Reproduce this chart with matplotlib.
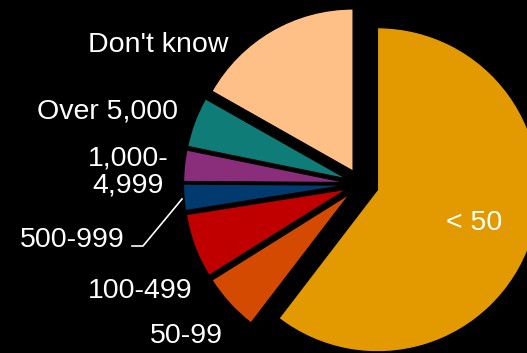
import matplotlib
matplotlib.use("Agg")
import matplotlib.pyplot as plt
from matplotlib.lines import Line2D

plt.rcParams["font.family"] = ["Liberation Sans", "DejaVu Sans"]

# share of respondents by size band, clockwise from 12 o'clock
labels = ["< 50", "50-99", "100-499", "500-999", "1,000-\n4,999", "Over 5,000", "Don't know"]
shares = [60.4, 5.7, 6.4, 2.6, 3.1, 5.0, 16.8]
colors = ["#E39A00", "#D44A00", "#C00000", "#003A6E", "#8A2D7A", "#107C78", "#FFC088"]
explode = [0.11, 0.093, 0.093, 0.093, 0.093, 0.093, 0.093]

W, H = 527, 353
fig = plt.figure(figsize=(W / 100, H / 100), dpi=100, facecolor="black")
ax = fig.add_axes([0, 0, 1, 1])
ax.set_facecolor("black")

ax.pie(shares, colors=colors, explode=explode, startangle=90, counterclock=False,
       radius=1, wedgeprops=dict(edgecolor="black", linewidth=0.8))
ax.set_xlim(-2.226, 1.027)
ax.set_ylim(-1.043, 1.136)
ax.set_aspect("equal")
ax.axis("off")


def fp(x, y):
    # pixel position (top-left origin) -> figure fraction
    return x / W, 1 - y / H


txt = dict(color="white", fontsize=20.5, va="baseline")
fig.text(*fp(228, 52), labels[6], ha="right", **txt)
fig.text(*fp(178, 118), labels[5], ha="right", **txt)
# two-line label: baseline alignment lands on the last line
fig.text(*fp(128, 193), labels[4], ha="center", multialignment="center",
         linespacing=1.08, **txt)
fig.text(*fp(125, 247), labels[3], ha="right", **txt)
fig.text(*fp(192, 298), labels[2], ha="right", **txt)
fig.text(*fp(223, 343), labels[1], ha="right", **txt)
fig.text(*fp(474, 230), labels[0], ha="center", **txt)

# leader line for the 500-999 label
lx, ly = zip(*[fp(132, 246), fp(143, 246), fp(182, 199)])
fig.add_artist(Line2D(lx, ly, color="white", lw=1.2, transform=fig.transFigure))

fig.savefig("out.png", dpi=100, facecolor="black")
